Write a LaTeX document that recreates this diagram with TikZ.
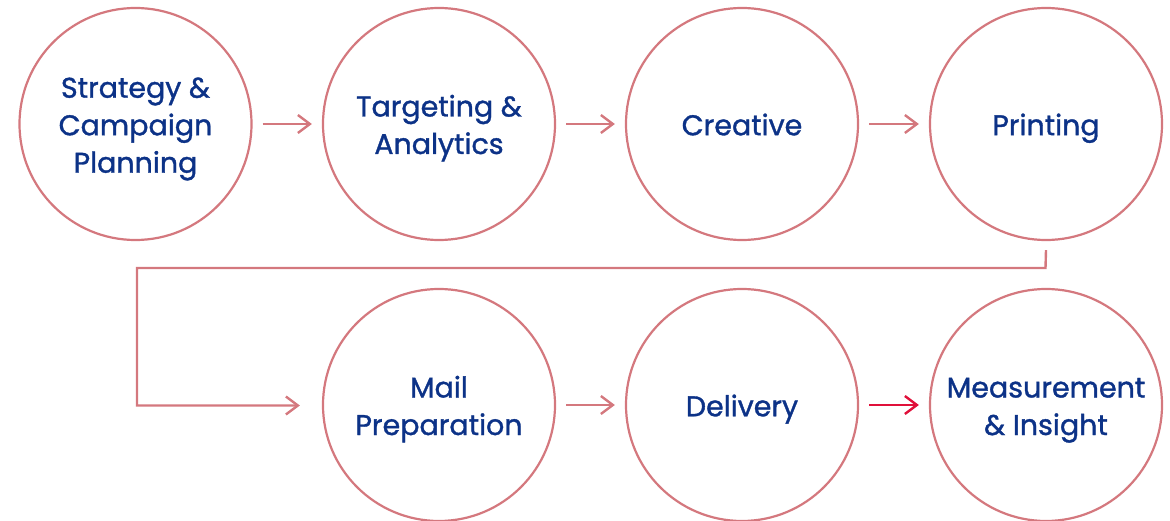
\documentclass[tikz,border=0pt]{standalone}
\usepackage{fontspec}
\setmainfont{Poppins}
\newfontface\stagefont{Poppins}[FakeBold=1.2]
\newcommand\capstrut{\rule[-8pt]{0pt}{38.5pt}}
\usetikzlibrary{arrows.meta}
\definecolor{ring}{RGB}{212,120,126}
\definecolor{txt}{RGB}{12,50,135}
\definecolor{hot}{RGB}{224,16,58}
\begin{document}
\begin{tikzpicture}[x=1pt,y=-1pt,
  stage/.style={circle,draw=ring,line width=2.2pt,minimum size=232pt,inner sep=0pt,
    align=center,text=txt,font=\stagefont\fontsize{28.5}{37.5}\selectfont,
    execute at end node=\capstrut},
  flow/.style={draw=ring,line width=2.4pt,-{Straight Barb[length=12pt,width=18pt,line width=2.4pt]}},
  hotflow/.style={flow,draw=hot}]
\useasboundingbox (0,0) rectangle (1170,521);
\node[stage] (s1) at (135.5,124) {\capstrut Strategy \&\\Campaign\\Planning};
\node[stage] (s2) at (439,124) {\capstrut Targeting \&\\Analytics};
\node[stage] (s3) at (742,124) {\capstrut Creative};
\node[stage] (s4) at (1046,124) {\capstrut Printing};
\node[stage] (s5) at (439,405) {\capstrut Mail\\Preparation};
\node[stage] (s6) at (742,405) {\capstrut Delivery};
\node[stage] (s7) at (1046,405) {\capstrut Measurement\\\& Insight};
\coordinate (c1) at (1045.5,268);
\coordinate (c2) at (137,268);
\coordinate (c3) at (137,405.5);
\draw[flow] ([xshift=10pt]s1.east) -- ([xshift=-10pt]s2.west);
\draw[flow] ([xshift=10pt]s2.east) -- ([xshift=-10pt]s3.west);
\draw[flow] ([xshift=10pt]s3.east) -- ([xshift=-10pt]s4.west);
\draw[flow] ([yshift=-9pt]s4.south) -- (c1) -- (c2) -- (c3) -- ([xshift=-22pt]s5.west|-c3);
\draw[flow] ([xshift=10pt]s5.east) -- ([xshift=-10pt]s6.west);
\draw[hotflow] ([xshift=10pt]s6.east) -- ([xshift=-10pt]s7.west);
\end{tikzpicture}
\end{document}
